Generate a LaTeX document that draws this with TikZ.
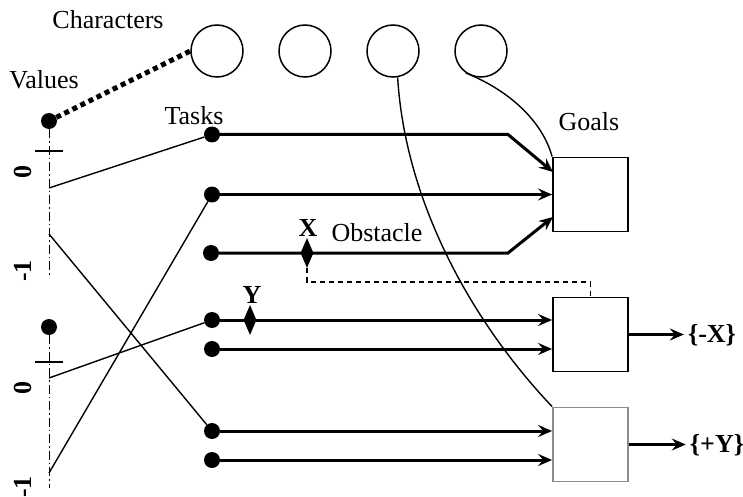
\documentclass[tikz,border=0pt]{standalone}
\usepackage{fontspec}
\setmainfont{Liberation Serif}
\usetikzlibrary{shapes.geometric,arrows.meta}
\begin{document}
\begin{tikzpicture}[x=1pt,y=-1pt,
  lbl/.style={font=\fontsize{26}{30}\selectfont, inner sep=0},
  blbl/.style={font=\fontsize{26}{30}\selectfont\bfseries, inner sep=0},
  char/.style={circle, draw, line width=1.5pt, minimum size=52pt, inner sep=0},
  dot/.style={circle, fill, minimum size=16pt, inner sep=0},
  goal/.style={draw, line width=1.8pt, minimum width=75pt, minimum height=74pt, inner sep=0},
  flow/.style={line width=3pt, -{Stealth[length=14pt,width=12pt,inset=5pt]}},
  link/.style={line width=1.4pt},
  axisline/.style={line width=1pt, dash pattern=on 9pt off 3pt on 1.5pt off 3pt},
  obst/.style={diamond, fill, minimum width=13pt, minimum height=30pt, inner sep=0},
  obsline/.style={line width=1.3pt, dash pattern=on 5pt off 4pt},
  charlink/.style={line width=5pt, dash pattern=on 5pt off 4pt},
]
\useasboundingbox (0,0) rectangle (743,497);

% labels
\node[lbl] (lchar) at (108,20) {Characters};
\node[lbl] (lval) at (44,80) {Values};
\node[lbl] (ltask) at (194,116) {Tasks};
\node[lbl] (lgoal) at (589,122) {Goals};
\node[lbl] (lobs) at (377,233) {Obstacle};

% characters
\node[char] (c1) at (217,51) {};
\node[char] (c2) at (305,51) {};
\node[char] (c3) at (393,51) {};
\node[char] (c4) at (481,51) {};

% goals
\node[goal] (g1) at (590.5,194.5) {};
\node[goal] (g2) at (590.5,334.5) {};
\node[goal, draw=black!45] (g3) at (590.5,444.5) {};

% task dots
\node[dot] (t1) at (212,134.5) {};
\node[dot] (t2) at (212,194.5) {};
\node[dot] (t3) at (211,253) {};
\node[dot] (t4) at (212,320) {};
\node[dot] (t5) at (212,349) {};
\node[dot] (t6) at (212,431) {};
\node[dot] (t7) at (212,460) {};

% value axes
\node[dot] (v1) at (49,121) {};
\node[dot] (v2) at (49,327) {};
\coordinate (a1end) at (49,276);
\coordinate (a2end) at (49,488);
\coordinate (k1l) at (35,151);
\coordinate (k1r) at (63,151);
\coordinate (k2l) at (35,362);
\coordinate (k2r) at (63,362);
\coordinate (a1z) at (49,188);
\coordinate (a1m) at (49,234);
\coordinate (a2z) at (49,378);
\coordinate (a2m) at (49,473);
\draw[axisline] (v1) -- (a1end);
\draw[axisline] (v2) -- (a2end);
\draw[link] (k1l) -- (k1r);
\draw[link] (k2l) -- (k2r);
\node[blbl, rotate=90] (n1z) at (23,172) {0};
\node[blbl, rotate=90] (n1m) at (23,271) {-1};
\node[blbl, rotate=90] (n2z) at (23,388) {0};
\node[blbl, rotate=90] (n2m) at (23,487) {-1};

% value to character
\draw[charlink] (v1) -- (c1.west);

% value to task links
\draw[link] (a1z) -- (t1);
\draw[link] (a1m) -- (t6);
\draw[link] (a2z) -- (t4);
\draw[link] (a2m) -- (t2);

% flows into goal 1
\coordinate (b1) at (508,134.5);
\coordinate (b3) at (508,253);
\coordinate (g1a) at (553,172);
\coordinate (g1c) at (553,217);
\draw[flow] (t1) -- (b1) -- (g1a);
\draw[flow] (t2) -- (t2 -| g1.west);
\draw[flow] (t3) -- (b3) -- (g1c);

% flows into goals 2 and 3
\draw[flow] (t4) -- (t4 -| g2.west);
\draw[flow] (t5) -- (t5 -| g2.west);
\draw[flow] (t6) -- (t6 -| g3.west);
\draw[flow] (t7) -- (t7 -| g3.west);

% obstacles
\node[obst] (xo) at (307,253) {};
\node[blbl] (lx) at (308,228) {X};
\node[obst] (yo) at (250,320) {};
\node[blbl] (ly) at (252,295) {Y};
\coordinate (dk) at (307,282);
\draw[obsline] (xo.south) -- (dk) -| (g2.north);

% outputs
\node[blbl] (ox) at (712,335) {\{-X\}};
\node[blbl] (oy) at (717,445) {\{+Y\}};
\draw[flow, shorten >=4pt] (g2.east) -- (g2.east -| ox.west);
\draw[flow, shorten >=4pt] (g3.east) -- (g3.east -| oy.west);

% character influence curves
\draw[link] (c4.-125) .. controls (520,95) and (545,130) .. (g1.north west);
\draw[link] (c3.-80) .. controls (405,200) and (470,320) .. (g3.north west);
\end{tikzpicture}
\end{document}
